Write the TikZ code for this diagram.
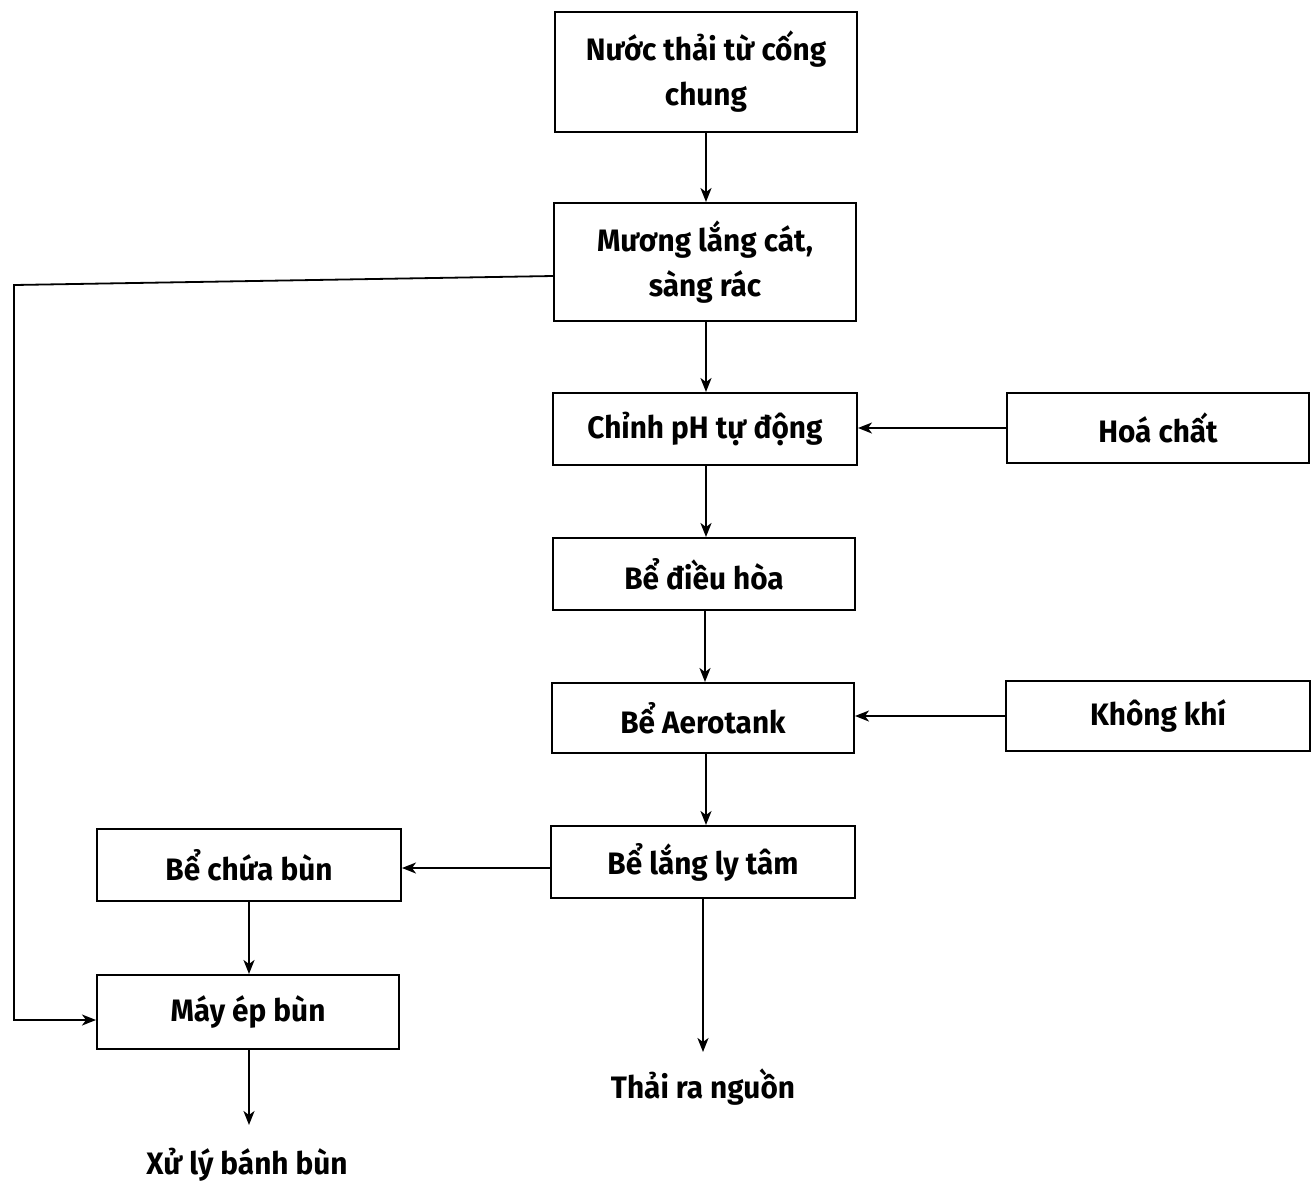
\documentclass[tikz,border=0pt]{standalone}
\usepackage{fontspec}
\setmainfont{Fira Sans}[FakeStretch=0.96]
\usetikzlibrary{arrows.meta}
\begin{document}
\begin{tikzpicture}[x=0.5pt,y=-0.5pt,
  box/.style={draw, line width=1pt, inner sep=0pt, align=center,
    font=\fontsize{15.5}{22.5}\selectfont\bfseries},
  lbl/.style={inner sep=0pt, font=\fontsize{15.5}{22.5}\selectfont\bfseries},
  flow/.style={line width=0.9pt, -{Stealth[length=7pt,width=5.5pt,inset=2pt]}}]
\useasboundingbox (0,0) rectangle (1313,1180);

% main treatment line
\node[box, minimum width=151pt, minimum height=60pt] (src) at (706,72) {Nước thải từ cống\\chung};
\node[box, minimum width=151pt, minimum height=59pt] (grit) at (705,262) {Mương lắng cát,\\sàng rác};
\node[box, minimum width=152pt, minimum height=36pt] (ph) at (705,429) {Chỉnh pH tự động};
\node[box, minimum width=151pt, minimum height=36pt] (eq) at (704,574) {Bể điều hòa};
\node[box, minimum width=151pt, minimum height=35pt] (aero) at (703,718) {Bể Aerotank};
\node[box, minimum width=152pt, minimum height=36pt] (sett) at (703,862) {Bể lắng ly tâm};

% side inputs
\node[box, minimum width=151pt, minimum height=35pt] (chem) at (1158,428) {Hoá chất};
\node[box, minimum width=152pt, minimum height=35pt] (air) at (1158,716) {Không khí};

% sludge line
\node[box, minimum width=152pt, minimum height=36pt] (store) at (249,865) {Bể chứa bùn};
\node[box, minimum width=151pt, minimum height=37pt] (press) at (248,1012) {Máy ép bùn};

% outlets
\node[lbl] (out) at (703,1087) {Thải ra nguồn};
\node[lbl] (cake) at (247,1165) {Xử lý bánh bùn};

% arrow ends above the outlet texts and corners of the bypass line
\coordinate (outend) at (703,1052);
\coordinate (cakeend) at (249,1125);
\coordinate (gl) at (14,285);
\coordinate (gb) at (20,1020);

\draw[flow] (src.south -| 706,0) -- (grit.north -| 706,0);
\draw[flow] (grit.south -| 706,0) -- (ph.north -| 706,0);
\draw[flow] (chem.west) -- (ph.east |- chem.west);
\draw[flow] (ph.south -| 706,0) -- (eq.north -| 706,0);
\draw[flow] (eq.south -| 705,0) -- (aero.north -| 705,0);
\draw[flow] (air.west) -- (aero.east |- air.west);
\draw[flow] (aero.south -| 706,0) -- (sett.north -| 706,0);
\draw[flow] (sett.west |- 0,868) -- (store.east |- 0,868);
\draw[flow] (store.south -| 249,0) -- (press.north -| 249,0);
\draw[flow] (sett.south -| outend) -- (outend);
\draw[flow] (press.south -| cakeend) -- (cakeend);
\draw[flow] (grit.west |- 0,276) -- (gl) -- (gl |- gb) -- (press.west |- gb);
\end{tikzpicture}
\end{document}
